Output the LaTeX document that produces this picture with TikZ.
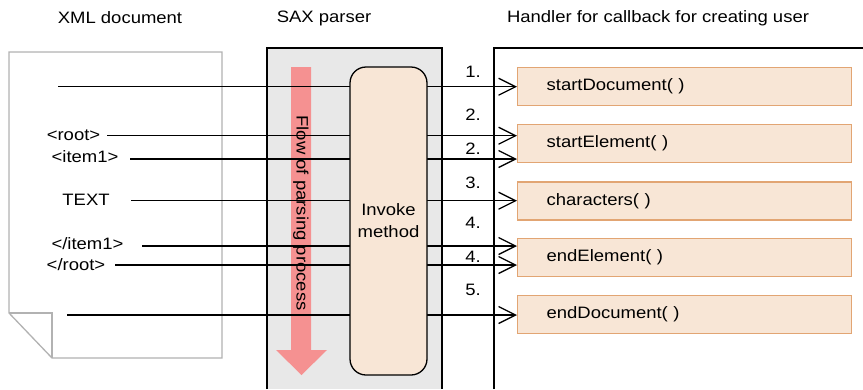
\documentclass[tikz,border=0pt]{standalone}
\usepackage{fontspec}
\setmainfont[FakeStretch=1.12]{Liberation Sans}
\usetikzlibrary{arrows.meta}
\definecolor{docgray}{RGB}{178,178,178}
\definecolor{saxgray}{RGB}{232,232,232}
\definecolor{peach}{RGB}{248,230,214}
\definecolor{peachline}{RGB}{226,165,115}
\definecolor{flowred}{RGB}{245,145,145}
\tikzset{
  hbox/.style={draw=peachline, fill=peach, line width=1.3pt, anchor=west, minimum height=38pt,
    text width=276pt, inner xsep=29pt, align=left},
  call/.style={line width=1.3pt, -{Straight Barb[length=17pt, width=17pt, line width=1.3pt]}}
}
\begin{document}
\begin{tikzpicture}[x=1pt, y=-1pt, every node/.style={font=\fontsize{16.5}{19}\selectfont}]
    \useasboundingbox (0,0) rectangle (863,389);
    % titles
    \node (tdoc) at (120,18) {XML document};
    \node (tsax) at (324,18) {SAX parser};
    \node (thnd) at (658,18) {Handler for callback for creating user};

    % document sheet
    \draw[docgray, line width=1.3pt, fill=white] (9,52) -- (222,52) -- (222,358) -- (52,358) -- (9,313) -- cycle;
    \draw[docgray, line width=1.3pt] (9,313) -- (52,313) -- (52,358);

    % parser and handler frames
    \fill[saxgray] (267,48) rectangle (442,389);
    \draw[line width=1.3pt] (267,389) -- (267,48) -- (442,48) -- (442,389);
    \draw[line width=1.3pt] (494,389) -- (494,48) -- (863,48);

    % flow of parsing
    \fill[flowred] (291,67) -- (311,67) -- (311,350) -- (327,350) -- (301.5,375) -- (276,350) -- (291,350) -- cycle;
    \node[rotate=-90] (flow) at (301,213) {Flow of parsing process};

    % callbacks
    \node[hbox] (sd) at (517,86.7) {startDocument( )};
    \node[hbox] (se) at (517,143.3) {startElement( )};
    \node[hbox] (ch) at (517,201) {characters( )};
    \node[hbox] (ee) at (517,257.3) {endElement( )};
    \node[hbox] (ed) at (517,314.5) {endDocument( )};

    % xml items
    \node (root) at (73.5,135) {<root>};
    \node (item) at (85,157) {<item1>};
    \node (text) at (86,200) {TEXT};
    \node (eitem) at (87.5,244) {</item1>};
    \node (eroot) at (76,265) {</root>};

    \coordinate (s1) at (58,86.7);
    \coordinate (s2) at (107,135.7);
    \coordinate (s3) at (130,159);
    \coordinate (s4) at (131,200.7);
    \coordinate (s5) at (142,246);
    \coordinate (s6) at (115,265);
    \coordinate (s7) at (67,315);

    \draw[call] (s1) -- (s1 -| sd.west);
    \draw[call] (s2) -- (s2 -| se.west);
    \draw[call] (s3) -- (s3 -| se.west);
    \draw[call] (s4) -- (s4 -| ch.west);
    \draw[call] (s5) -- (s5 -| ee.west);
    \draw[call] (s6) -- (s6 -| ee.west);
    \draw[call] (s7) -- (s7 -| ed.west);

    \node[draw, fill=peach, rounded corners=16pt, line width=1.3pt, minimum width=77pt, minimum height=308pt,
      align=center, font=\fontsize{16.5}{22}\selectfont] (inv) at (388.5,221) {Invoke\\method};

    % order of calls
    \node (n1) at (473,72) {1.};
    \node (n2) at (473,115) {2.};
    \node (n3) at (473,149) {2.};
    \node (n4) at (473,183) {3.};
    \node (n5) at (473,223) {4.};
    \node (n6) at (473,257) {4.};
    \node (n7) at (473,290) {5.};
\end{tikzpicture}
\end{document}
